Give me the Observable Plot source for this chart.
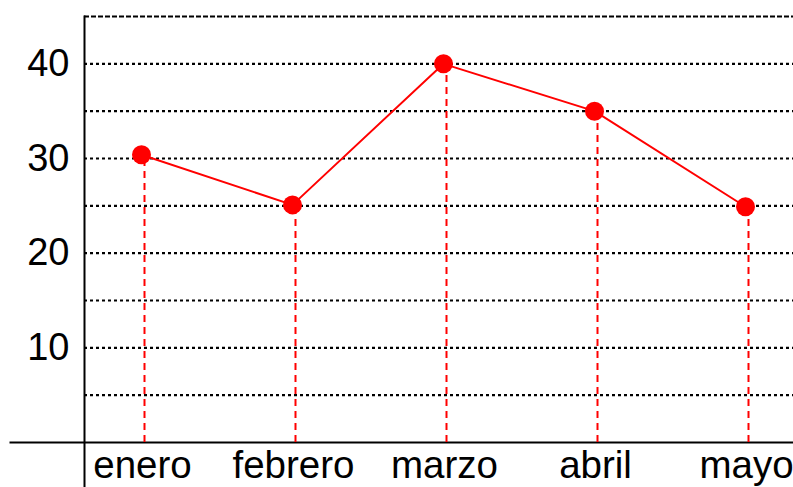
<!DOCTYPE html>
<html>
<head>
<meta charset="utf-8">
<script src="https://cdn.jsdelivr.net/npm/d3@7"></script>
<script src="https://cdn.jsdelivr.net/npm/@observablehq/plot@0.6"></script>
<style>
  html, body { margin: 0; padding: 0; background: white; }
</style>
</head>
<body>
<div id="chart"></div>
<script>
const months = ["enero", "febrero", "marzo", "abril", "mayo"];
const values = [30.4, 25.1, 40, 35, 24.9];
const gridTicks = [5, 10, 15, 20, 25, 30, 35, 40];
const topTick = [45];
const yLabels = [10, 20, 30, 40];

const data = months.map((m, i) => ({month: m, value: values[i]}));

const chart = Plot.plot({
  width: 793,
  height: 487,
  marginLeft: 84,
  marginRight: 0,
  marginTop: 16,
  marginBottom: 45,
  style: {fontFamily: "'Liberation Sans', Arial, sans-serif", background: "white", overflow: "visible", color: "black"},
  x: {type: "point", domain: months, range: [140, 745], padding: 0},
  y: {domain: [0, 45]},
  marks: [
    Plot.ruleY(gridTicks, {stroke: "black", strokeWidth: 2.2, strokeDasharray: "3,3"}),
    Plot.ruleY(topTick, {stroke: "black", strokeWidth: 2.2, strokeDasharray: "5,2"}),
    Plot.frame({anchor: "left", stroke: "black", strokeWidth: 2, insetBottom: -45}),
    Plot.frame({anchor: "bottom", stroke: "black", strokeWidth: 2, insetLeft: -74}),
    Plot.axisY(yLabels, {tickSize: 0, tickPadding: 15, fontSize: 38, label: null}),
    Plot.axisX({tickSize: 0, tickPadding: 8, fontSize: 38.5, label: null, dx: 1}),
    Plot.ruleX(data, {x: "month", y1: 0, y2: "value", stroke: "red", strokeWidth: 2, strokeDasharray: "7,5", dx: 3}),
    Plot.line(data, {x: "month", y: "value", stroke: "red", strokeWidth: 2}),
    Plot.dot(data, {x: "month", y: "value", r: 9.5, fill: "red"})
  ]
});
document.getElementById("chart").appendChild(chart);
</script>
</body>
</html>
